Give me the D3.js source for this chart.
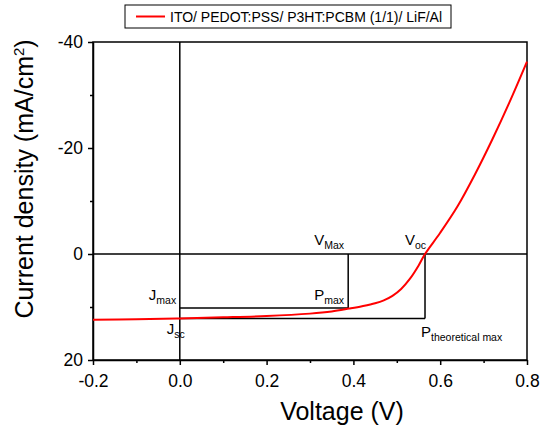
<!DOCTYPE html>
<html><head><meta charset="utf-8">
<script src="https://cdn.jsdelivr.net/npm/d3@7"></script>
<style>body{margin:0;background:#fff}svg{font-family:"Liberation Sans",Arial,sans-serif}</style>
</head><body>
<svg id="c" width="543" height="430"></svg>
<script>
const voltage = [-0.2, -0.1, 0, 0.1, 0.2, 0.3, 0.35, 0.39, 0.42, 0.45, 0.47, 0.49, 0.51, 0.53, 0.55, 0.565, 0.6, 0.64, 0.68, 0.72, 0.76, 0.8];
const current = [12.4, 12.3, 12.15, 11.95, 11.7, 11.25, 10.85, 10.3, 9.85, 9.3, 8.75, 7.9, 6.6, 4.7, 2.2, 0, -4.0, -9.0, -15.0, -21.6, -28.7, -36.3];
const seriesName = "ITO/ PEDOT:PSS/ P3HT:PCBM (1/1)/ LiF/Al";
const xTicks = [-0.2, 0, 0.2, 0.4, 0.6, 0.8];
const yTicks = [-40, -20, 0, 20];
const xMinor = [-0.1, 0.1, 0.3, 0.5, 0.7];
const yMinor = [-30, -10, 10];
const Vmax = 0.388, Jmax = 10.2, Voc = 0.565, Jsc = 12.15;

const svg = d3.select("#c");
const L = 93, R = 527, T = 42, B = 360;
const x = d3.scaleLinear().domain([-0.2, 0.8]).range([L, R]);
const y = d3.scaleLinear().domain([-40, 20]).range([T, B]);
const hy = f => (v => f(v).replace("\u2212", "-"));

// frame
svg.append("rect").attr("x", L).attr("y", T).attr("width", R - L).attr("height", B - T)
  .attr("fill", "none").attr("stroke", "#000").attr("stroke-width", 1.5);

// axes
const xAxis = svg.append("g").attr("transform", `translate(0,${B})`)
  .call(d3.axisBottom(x).tickValues(xTicks).tickFormat(hy(d3.format(".1f"))).tickSize(5).tickSizeOuter(0));
svg.append("g").attr("transform", `translate(0,${B})`)
  .call(d3.axisBottom(x).tickValues(xMinor).tickFormat("").tickSize(3).tickSizeOuter(0))
  .select(".domain").remove();
const yAxis = svg.append("g").attr("transform", `translate(${L},0)`)
  .call(d3.axisLeft(y).tickValues(yTicks).tickFormat(hy(d3.format("d"))).tickSize(5).tickSizeOuter(0));
svg.append("g").attr("transform", `translate(${L},0)`)
  .call(d3.axisLeft(y).tickValues(yMinor).tickFormat("").tickSize(3).tickSizeOuter(0))
  .select(".domain").remove();
svg.selectAll(".domain").attr("stroke-width", 1.5);
svg.selectAll(".tick line").attr("stroke-width", 1.5);
xAxis.selectAll("text").attr("font-size", 17.5).attr("y", 27).attr("dy", 0).attr("fill", "#000");
yAxis.selectAll("text").attr("font-size", 17.5).attr("x", -10).attr("fill", "#000");

// axis titles
svg.append("text").attr("x", 342).attr("y", 420).attr("text-anchor", "middle")
  .attr("font-size", 25).text("Voltage (V)");
svg.append("text").attr("transform", `translate(33,179) rotate(-90)`)
  .attr("text-anchor", "middle").attr("font-size", 25)
  .html('Current density (mA/cm<tspan dy="-9" font-size="15">2</tspan><tspan dy="9">)</tspan>');

// reference lines
const ln = (x1, y1, x2, y2) => svg.append("line").attr("x1", x(x1)).attr("y1", y(y1)).attr("x2", x(x2)).attr("y2", y(y2))
  .attr("stroke", "#000").attr("stroke-width", 1.5);
ln(0, -40, 0, 20);
ln(-0.2, 0, 0.8, 0);
ln(Vmax, 0, Vmax, Jmax);
ln(0, Jmax, Vmax, Jmax);
ln(0, Jsc, Voc, Jsc);
ln(Voc, 0, Voc, Jsc);

// curve
const data = voltage.map((v, i) => [v, current[i]]);
svg.append("path").datum(data)
  .attr("fill", "none").attr("stroke", "#ff0000").attr("stroke-width", 2)
  .attr("d", d3.line().x(d => x(d[0])).y(d => y(d[1])).curve(d3.curveCatmullRom));

// annotations
const lab = (px, py, main, sub) => svg.append("text").attr("x", px).attr("y", py).attr("font-size", 15)
  .html(`${main}<tspan dy="4" font-size="10.5">${sub}</tspan>`);
lab(x(0) - 31, y(Jmax) - 8, "J", "max");
lab(x(0) - 13, y(Jsc) + 16, "J", "sc");
lab(x(Vmax) - 34, y(0) - 9, "V", "Max");
lab(x(Vmax) - 34, y(Jmax) - 8, "P", "max");
lab(x(Voc) - 20, y(0) - 9, "V", "oc");
lab(x(Voc) - 4, y(Jsc) + 19, "P", "theoretical max");

// legend
const lg = svg.append("g");
lg.append("rect").attr("x", 125).attr("y", 5).attr("width", 326).attr("height", 23)
  .attr("fill", "#fff").attr("stroke", "#000").attr("stroke-width", 1);
lg.append("line").attr("x1", 136).attr("x2", 165).attr("y1", 16.5).attr("y2", 16.5)
  .attr("stroke", "#ff0000").attr("stroke-width", 2);
lg.append("text").attr("x", 170).attr("y", 21.5).attr("font-size", 14).text(seriesName);
</script>
</body></html>
